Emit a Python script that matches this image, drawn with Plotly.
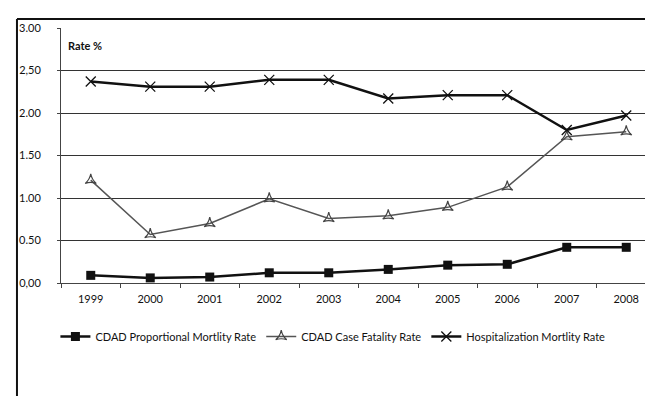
import plotly.graph_objects as go

years = ["1999", "2000", "2001", "2002", "2003", "2004", "2005", "2006", "2007", "2008"]
proportional = [0.09, 0.06, 0.07, 0.12, 0.12, 0.16, 0.21, 0.22, 0.42, 0.42]
case_fatality = [1.21, 0.57, 0.70, 0.99, 0.76, 0.79, 0.89, 1.13, 1.72, 1.78]
hospitalization = [2.37, 2.31, 2.31, 2.39, 2.39, 2.17, 2.21, 2.21, 1.80, 1.97]
y_tick_vals = [0, 0.5, 1.0, 1.5, 2.0, 2.5, 3.0]
y_tick_text = ["0,00", "0.50", "1.00", "1.50", "2.00", "2,50", "3.00"]

FONT = "Lato, 'Open Sans', sans-serif"

fig = go.Figure()
fig.add_trace(go.Scatter(
    x=years, y=proportional, mode="lines+markers",
    name="CDAD Proportional Mortlity Rate",
    line=dict(color="#111111", width=2.5),
    marker=dict(symbol="square", size=9, color="#111111"),
))
fig.add_trace(go.Scatter(
    x=years, y=case_fatality, mode="lines+markers",
    name="CDAD Case Fatality Rate",
    line=dict(color="#555555", width=1.5),
    marker=dict(symbol="star-triangle-up-open", size=8, color="#444444", line=dict(width=1.2)),
))
fig.add_trace(go.Scatter(
    x=years, y=hospitalization, mode="lines+markers",
    name="Hospitalization Mortlity Rate",
    line=dict(color="#111111", width=2.5),
    marker=dict(symbol="x-thin", size=10, color="#111111", line=dict(width=1.3, color="#111111")),
))

fig.update_layout(
    width=653, height=396,
    margin=dict(l=53, r=5, t=20, b=121),
    paper_bgcolor="white", plot_bgcolor="white",
    font=dict(family=FONT, size=11, color="#111111"),
    showlegend=True,
    legend=dict(orientation="h", x=0.457, xanchor="center", y=-0.21, yanchor="middle",
                font=dict(size=11, color="#111111"), itemwidth=30, tracegroupgap=0),
    xaxis=dict(type="category", range=[-0.5, 9.5], showgrid=False,
               showline=True, linecolor="#444444", linewidth=1,
               ticks="outside", tickson="boundaries", ticklen=4, tickcolor="#444444",
               tickfont=dict(size=11), ticklabelstandoff=6),
    yaxis=dict(range=[0, 3.0], tickvals=y_tick_vals, ticktext=y_tick_text,
               showgrid=True, gridcolor="#333333", gridwidth=1,
               showline=True, linecolor="#444444", linewidth=1,
               ticks="outside", ticklen=3, tickcolor="#444444",
               tickfont=dict(size=11), ticklabelstandoff=14, zeroline=False),
    annotations=[dict(text="<b>Rate %</b>", xref="paper", yref="paper",
                      x=0.008, y=0.93, xanchor="left", yanchor="middle",
                      showarrow=False, font=dict(size=11))],
    shapes=[
        dict(type="line", xref="paper", yref="paper", x0=-0.074, x1=1.01, y0=1.035, y1=1.035,
             line=dict(color="#111111", width=2)),
        dict(type="line", xref="paper", yref="paper", x0=-0.074, x1=-0.074, y0=1.035, y1=-0.48,
             line=dict(color="#111111", width=2)),
    ],
)

fig.write_html("out.html")
